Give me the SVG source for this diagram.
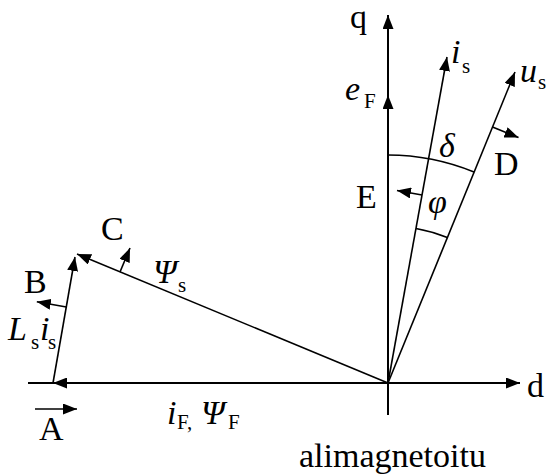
<svg xmlns="http://www.w3.org/2000/svg" width="547" height="475" viewBox="0 0 547 475">
<defs>
<style>
text{font-family:"Liberation Serif","Times New Roman",serif;fill:#000}
.m{font-size:34px}
.it{font-size:34px;font-style:italic}
.sub{font-size:21px}
.ax{stroke:#000;stroke-width:2;fill:none}
.v{stroke:#000;stroke-width:1.6;fill:none}
</style>
<marker id="ah" viewBox="0 0 14 11" refX="14" refY="5.5" markerWidth="14" markerHeight="11" orient="auto" markerUnits="userSpaceOnUse"><path d="M0,0 L14,5.5 L0,11 z" fill="#000"/></marker>
</defs>
<rect width="547" height="475" fill="#fff"/>
<g id="connectors">
<line class="ax" x1="28" y1="383" x2="520" y2="383" marker-end="url(#ah)"/>
<line class="ax" x1="388" y1="415" x2="388" y2="15" marker-end="url(#ah)"/>
<line class="ax" x1="388" y1="383" x2="388" y2="95" marker-end="url(#ah)"/>
<line class="ax" x1="388" y1="383" x2="53" y2="383" marker-end="url(#ah)"/>
<line class="v" x1="388" y1="383" x2="447" y2="57" marker-end="url(#ah)"/>
<line class="v" x1="388" y1="383" x2="515" y2="72" marker-end="url(#ah)"/>
<line class="v" x1="388" y1="383" x2="77" y2="254" marker-end="url(#ah)"/>
<line class="v" x1="53" y1="383" x2="75" y2="257" marker-end="url(#ah)"/>
<path class="v" d="M388,155 A228,228 0 0 1 474,172"/>
<path class="v" d="M416,228.5 A157,157 0 0 1 447.3,237.6"/>
<line class="v" x1="422" y1="195" x2="397" y2="190.5" marker-end="url(#ah)"/>
<line class="v" x1="492.5" y1="127" x2="518.5" y2="137.6" marker-end="url(#ah)"/>
<line class="v" x1="66.3" y1="307" x2="36.8" y2="301.8" marker-end="url(#ah)"/>
<line class="v" x1="120" y1="272" x2="130" y2="248" marker-end="url(#ah)"/>
<line class="v" x1="35" y1="409" x2="77" y2="409" marker-end="url(#ah)"/>
</g>
<g id="q"><text class="m" x="350" y="28">q</text></g>
<g id="d"><text class="m" x="527" y="397">d</text></g>
<g id="eF"><text class="it" x="345" y="100">e</text><text class="sub" x="364" y="108">F</text></g>
<g id="is"><text class="it" x="451" y="63">i</text><text class="sub" x="462" y="73">s</text></g>
<g id="us"><text class="it" x="520" y="82">u</text><text class="sub" x="538" y="89">s</text></g>
<g id="delta"><text class="it" x="439" y="157">δ</text></g>
<g id="phi"><text class="it" x="428" y="213">φ</text></g>
<g id="D"><text class="m" x="494" y="175">D</text></g>
<g id="E"><text class="m" x="356" y="208">E</text></g>
<g id="C"><text class="m" x="101" y="240">C</text></g>
<g id="B"><text class="m" x="24" y="293">B</text></g>
<g id="A"><text class="m" x="39" y="440">A</text></g>
<g id="Lsis"><text class="it" x="8" y="340">L</text><text class="sub" x="31" y="349">s</text><text class="it" x="40" y="340">i</text><text class="sub" x="48" y="349">s</text></g>
<g id="Psis"><text class="it" x="153" y="283">Ψ</text><text class="sub" x="178" y="292">s</text></g>
<g id="iFPsiF"><text class="it" x="167" y="424">i</text><text class="sub" x="177" y="429">F,</text><text class="it" x="201" y="424">Ψ</text><text class="sub" x="228" y="429">F</text></g>
<g id="caption"><text class="m" x="299" y="467">alimagnetoitu</text></g>
</svg>
